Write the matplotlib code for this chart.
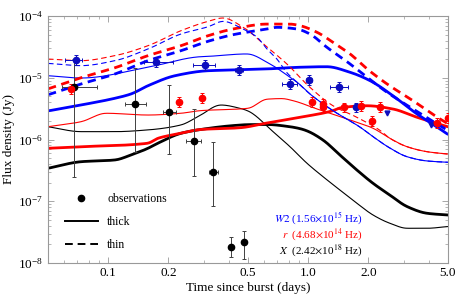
import numpy as np
import matplotlib
matplotlib.use("Agg")
import matplotlib.pyplot as plt
from matplotlib.ticker import FixedLocator, NullFormatter, LogLocator
from matplotlib.lines import Line2D

plt.rcParams['font.family'] = ['Liberation Serif', 'DejaVu Serif']
plt.rcParams['mathtext.fontset'] = 'stix'

# ---------------- observations ----------------
x_t = [0.0674, 0.136, 0.2005, 0.267, 0.336, 0.41, 0.477]
x_f = [7.2e-6, 3.76e-6, 2.76e-6, 9.6e-7, 3.0e-7, 1.84e-8, 2.16e-8]
x_flo = [2.5e-7, 6.3e-7, 5.8e-7, 2.6e-7, 8.5e-8, 1.26e-8, 1.15e-8]
x_fhi = [2.0e-5, 1.44e-5, 7.6e-6, 3.1e-6, 9.0e-7, 2.6e-8, 3.3e-8]
x_tlo = [0.0587, 0.121, 0.188, 0.245, 0.319, 0.41, 0.477]
x_thi = [0.088, 0.154, 0.218, 0.291, 0.354, 0.41, 0.477]

w2_t = [0.069, 0.173, 0.305, 0.45, 0.808, 1.01, 1.42, 1.74]
w2_f = [1.94e-5, 1.82e-5, 1.61e-5, 1.34e-5, 7.8e-6, 9.2e-6, 7.0e-6, 3.3e-6]
w2_tlo = [0.0608, 0.151, 0.265, 0.43, 0.739, 0.98, 1.285, 1.70]
w2_thi = [0.074, 0.211, 0.342, 0.47, 0.879, 1.04, 1.58, 1.78]
w2_ul_t = [2.49, 4.1]
w2_ul_f = [2.65e-6, 1.72e-6]

r_t = [0.0652, 0.226, 0.295, 1.04, 1.18, 1.18, 1.51, 1.83, 2.08, 2.29, 4.38, 5.0]
r_f = [6.5e-6, 4.0e-6, 4.75e-6, 4.1e-6, 3.8e-6, 3.3e-6, 3.3e-6, 3.5e-6, 2.0e-6, 3.4e-6, 1.87e-6, 2.2e-6]

# ---------------- model curves ----------------
bk_thick_t = [0.05, 0.0731, 0.108, 0.130, 0.158, 0.177, 0.231, 0.281, 0.421, 0.5, 0.622, 0.8, 0.91, 0.986, 1.186, 1.44, 1.75, 2.11, 2.56, 3.12, 3.93, 5.0]
bk_thick_f = [3.42e-7, 4.37e-7, 4.66e-7, 5.61e-7, 7.2e-7, 8.7e-7, 1.26e-6, 1.43e-6, 1.68e-6, 1.74e-6, 1.75e-6, 1.62e-6, 1.5e-6, 1.38e-6, 9.8e-7, 5.61e-7, 3.21e-7, 1.95e-7, 1.26e-7, 8.2e-8, 6.38e-8, 5.98e-8]

bk_thin_t = [0.05, 0.0731, 0.108, 0.158, 0.231, 0.281, 0.366, 0.456, 0.5, 0.667, 0.811, 0.986, 1.186, 1.44, 1.75, 2.11, 2.56, 3.12, 3.93, 5.0]
bk_thin_f = [1.61e-6, 1.34e-6, 1.34e-6, 1.43e-6, 1.72e-6, 2.34e-6, 3.62e-6, 3.2e-6, 2.9e-6, 1.34e-6, 7.64e-7, 4.12e-7, 2.5e-7, 1.52e-7, 9.3e-8, 5.98e-8, 4.4e-8, 3.65e-8, 3.65e-8, 3.9e-8]

r_thick_t = [0.05, 0.0731, 0.158, 0.177, 0.231, 0.288, 0.456, 0.622, 0.91, 1.33, 1.44, 1.97, 2.65, 3.5, 5.0]
r_thick_f = [7.2e-7, 7.64e-7, 8.7e-7, 1.045e-6, 1.26e-6, 1.45e-6, 1.55e-6, 1.85e-6, 2.29e-6, 2.93e-6, 3.25e-6, 3.52e-6, 3.12e-6, 2.29e-6, 1.6e-6]

r_thin_t = [0.05, 0.0731, 0.0975, 0.158, 0.231, 0.288, 0.5, 0.622, 0.74, 0.84, 1.107, 1.62, 2.11, 2.56, 3.12, 3.93, 5.0]
r_thin_f = [1.61e-6, 1.94e-6, 2.66e-6, 2.49e-6, 2.66e-6, 2.93e-6, 3.2e-6, 4.5e-6, 4.6e-6, 4.25e-6, 3.12e-6, 2.07e-6, 1.52e-6, 1.045e-6, 7.64e-7, 6.34e-7, 5.8e-7]

b_thick_t = [0.05, 0.0731, 0.108, 0.130, 0.158, 0.216, 0.316, 0.421, 0.622, 0.91, 1.24, 1.62, 2.04, 2.65, 3.5, 4.56, 5.0]
b_thick_f = [2.9e-6, 3.62e-6, 4.65e-6, 5.46e-6, 7.43e-6, 1.08e-5, 1.30e-5, 1.335e-5, 1.39e-5, 1.48e-5, 1.51e-5, 1.225e-5, 8.96e-6, 5.12e-6, 2.59e-6, 1.48e-6, 1.2e-6]

b_thin_t = [0.05, 0.0731, 0.158, 0.288, 0.316, 0.494, 0.644, 0.811, 0.879, 1.02, 1.33, 1.82, 2.11, 2.56, 3.12, 3.93, 5.0]
b_thin_f = [1.08e-5, 9.9e-6, 1.48e-5, 2.19e-5, 2.22e-5, 2.43e-5, 1.67e-5, 1.02e-5, 8.5e-6, 5.46e-6, 2.93e-6, 1.58e-6, 1.11e-6, 7.28e-7, 5.26e-7, 4.49e-7, 4.27e-7]

b_thick_d_t = [0.05, 0.0731, 0.108, 0.158, 0.231, 0.316, 0.421, 0.622, 0.698, 0.879, 1.02, 1.24, 1.62, 1.97, 2.48, 3.34, 4.56, 5.0]
b_thick_d_f = [5.3e-6, 7.92e-6, 1.15e-5, 1.89e-5, 2.74e-5, 3.9e-5, 4.98e-5, 6.16e-5, 6.56e-5, 6.16e-5, 5.11e-5, 3.11e-5, 1.67e-5, 1.017e-5, 5.81e-6, 3.12e-6, 1.67e-6, 1.4e-6]

r_thick_d_t = [0.05, 0.0731, 0.108, 0.158, 0.231, 0.316, 0.421, 0.622, 0.811, 0.91, 1.107, 1.33, 1.62, 1.97, 2.48, 3.34, 4.56, 5.0]
r_thick_d_f = [6.6e-6, 1.0e-5, 1.45e-5, 2.28e-5, 3.3e-5, 4.8e-5, 6.16e-5, 7.4e-5, 7.4e-5, 6.97e-5, 5.45e-5, 3.75e-5, 2.43e-5, 1.39e-5, 7.92e-6, 4.25e-6, 2.15e-6, 1.8e-6]

r_thin_d_t = [0.05, 0.0731, 0.108, 0.158, 0.231, 0.316, 0.375, 0.472, 0.622, 0.783, 1.02, 1.33, 1.75, 2.29, 2.56, 3.12, 3.93, 5.0]
r_thin_d_f = [2.01e-5, 1.89e-5, 2.28e-5, 3.3e-5, 5.78e-5, 8.2e-5, 9.3e-5, 6.6e-5, 3.15e-5, 1.67e-5, 7.0e-6, 3.52e-6, 2.29e-6, 1.4e-6, 1.045e-6, 7.64e-7, 6.34e-7, 5.8e-7]

b_thin_d_t = [0.05, 0.0731, 0.108, 0.158, 0.231, 0.316, 0.375, 0.472, 0.554, 0.622, 0.698, 0.783, 0.879, 1.02, 1.33, 1.82, 2.11, 2.56, 3.12, 3.93, 5.0]
b_thin_d_f = [1.71e-5, 1.57e-5, 1.89e-5, 2.92e-5, 5.11e-5, 6.7e-5, 8.2e-5, 6.16e-5, 4.57e-5, 2.92e-5, 2.01e-5, 1.2e-5, 8.5e-6, 5.46e-6, 2.93e-6, 1.58e-6, 1.11e-6, 7.28e-7, 5.26e-7, 4.49e-7, 4.27e-7]

xticks = [0.1, 0.2, 0.5, 1.0, 2.0, 5.0]
xticklabels = ["0.1", "0.2", "0.5", "1.0", "2.0", "5.0"]

BLUE = (0, 0, 1)
RED = (1, 0, 0)
OBS_BLUE = (0.05, 0.05, 0.75)

fig = plt.figure(figsize=(4.58, 2.99), dpi=100)
ax = fig.add_axes([48/458, 1-263/299, 400/458, 247/299])

LW_THICK = 2.0
LW_THIN = 0.8
DASH_THICK = (0, (3.0, 2.0))
DASH_THIN = (0, (5.0, 3.0))


def pchip(x, y, xs):
    x = np.asarray(x, float); y = np.asarray(y, float)
    h = np.diff(x); d = np.diff(y) / h
    n = len(x)
    m = np.zeros(n)
    for i in range(1, n - 1):
        if d[i-1] * d[i] <= 0:
            m[i] = 0.0
        else:
            w1 = 2*h[i] + h[i-1]; w2 = h[i] + 2*h[i-1]
            m[i] = (w1 + w2) / (w1/d[i-1] + w2/d[i])
    m[0] = d[0]; m[-1] = d[-1]
    idx = np.clip(np.searchsorted(x, xs) - 1, 0, n - 2)
    hh = h[idx]; s = (xs - x[idx]) / hh
    h00 = 2*s**3 - 3*s**2 + 1; h10 = s**3 - 2*s**2 + s
    h01 = -2*s**3 + 3*s**2; h11 = s**3 - s**2
    return h00*y[idx] + h10*hh*m[idx] + h01*y[idx+1] + h11*hh*m[idx+1]


def curve(t, f, **kw):
    lt = np.log10(t); lf = np.log10(f)
    xs = np.linspace(lt[0], lt[-1], 400)
    ys = pchip(lt, lf, xs)
    k = 5
    pad = np.concatenate([np.full(k//2, ys[0]), ys, np.full(k//2, ys[-1])])
    ys = np.convolve(pad, np.ones(k)/k, mode='valid')
    ax.plot(10**xs, 10**ys, **kw)


curve(bk_thick_t, bk_thick_f, color='k', lw=LW_THICK)
curve(bk_thin_t, bk_thin_f, color='k', lw=LW_THIN)
curve(r_thick_t, r_thick_f, color=RED, lw=LW_THICK)
curve(r_thin_t, r_thin_f, color=RED, lw=LW_THIN)
curve(b_thick_t, b_thick_f, color=BLUE, lw=LW_THICK)
curve(b_thin_t, b_thin_f, color=BLUE, lw=LW_THIN)
curve(r_thick_d_t, r_thick_d_f, color=RED, lw=LW_THICK, ls=DASH_THICK)
curve(b_thick_d_t, b_thick_d_f, color=BLUE, lw=LW_THICK, ls=DASH_THICK)
curve(r_thin_d_t, r_thin_d_f, color=RED, lw=LW_THIN, ls=DASH_THIN)
curve(b_thin_d_t, b_thin_d_f, color=BLUE, lw=LW_THIN, ls=DASH_THIN)

# observations
xt = np.array(x_t); xf = np.array(x_f)
ax.errorbar(xt, xf,
            yerr=[xf - np.array(x_flo), np.array(x_fhi) - xf],
            xerr=[xt - np.array(x_tlo), np.array(x_thi) - xt],
            fmt='o', color='k', ms=4.5, ecolor=(0.25, 0.25, 0.25), elinewidth=0.7,
            capsize=1.5, capthick=0.7, zorder=5)

wt = np.array(w2_t); wf = np.array(w2_f)
ax.errorbar(wt, wf, yerr=[wf*(1-10**-0.08), wf*(10**0.08-1)],
            xerr=[wt - np.array(w2_tlo), np.array(w2_thi) - wt],
            fmt='o', color=OBS_BLUE, ms=4.5, elinewidth=0.7, capsize=1.5, capthick=0.7, zorder=5)
ax.plot(w2_ul_t, w2_ul_f, 'v', color=OBS_BLUE, ms=3.5, zorder=5)

rt = np.array(r_t); rf = np.array(r_f)
ax.errorbar(rt, rf, yerr=[rf*(1-10**-0.08), rf*(10**0.08-1)],
            fmt='o', color=RED, ms=4.5, elinewidth=0.7, capsize=1.5, capthick=0.7, zorder=5)

ax.set_xscale('log'); ax.set_yscale('log')
ax.set_xlim(0.05, 5.0)
ax.set_ylim(1e-8, 1e-4)

ax.xaxis.set_major_locator(FixedLocator(xticks))
ax.set_xticklabels(xticklabels)
ax.xaxis.set_minor_locator(LogLocator(base=10, subs=np.arange(1, 10) * 1.0, numticks=20))
ax.xaxis.set_minor_formatter(NullFormatter())
ax.yaxis.set_major_locator(LogLocator(base=10, numticks=10))
ax.yaxis.set_minor_locator(LogLocator(base=10, subs=np.arange(2, 10) * 1.0, numticks=20))
ax.yaxis.set_minor_formatter(NullFormatter())

for s in ax.spines.values():
    s.set_color((0.6, 0.6, 0.6)); s.set_linewidth(0.8)
ax.tick_params(which='both', direction='in', top=True, right=True, colors=(0.6, 0.6, 0.6),
               labelcolor='k', labelsize=9.5)
ax.tick_params(which='major', length=4, width=0.6)
ax.tick_params(which='minor', length=2, width=0.5)
ax.tick_params(axis='x', pad=3)

ax.set_xlabel('Time since burst (days)', fontsize=9.5, labelpad=2)
ax.set_ylabel('Flux density (Jy)', fontsize=9.5, labelpad=2)

handles = [Line2D([], [], ls='none', marker='o', color='k', ms=4.5),
           Line2D([], [], color='k', lw=1.4),
           Line2D([], [], color='k', lw=1.4, ls=(0, (4, 2.5)))]
leg = ax.legend(handles, ['observations', 'thick', 'thin'], loc='lower left',
                bbox_to_anchor=(0.015, 0.005), frameon=False, fontsize=8.5,
                handlelength=2.8, labelspacing=0.92, handletextpad=0.8)

ax.text(0.787, 0.178, r'$\it{W2}$ (1.56$\times$10$^{15}$ Hz)', color=BLUE, fontsize=8,
        ha='right', va='center', transform=ax.transAxes)
ax.text(0.787, 0.116, r'$\it{r}$  (4.68$\times$10$^{14}$ Hz)', color=RED, fontsize=8,
        ha='right', va='center', transform=ax.transAxes)
ax.text(0.787, 0.054, r'$\it{X}$  (2.42$\times$10$^{18}$ Hz)', color='k', fontsize=8,
        ha='right', va='center', transform=ax.transAxes)

fig.savefig('out.png', dpi=100)
